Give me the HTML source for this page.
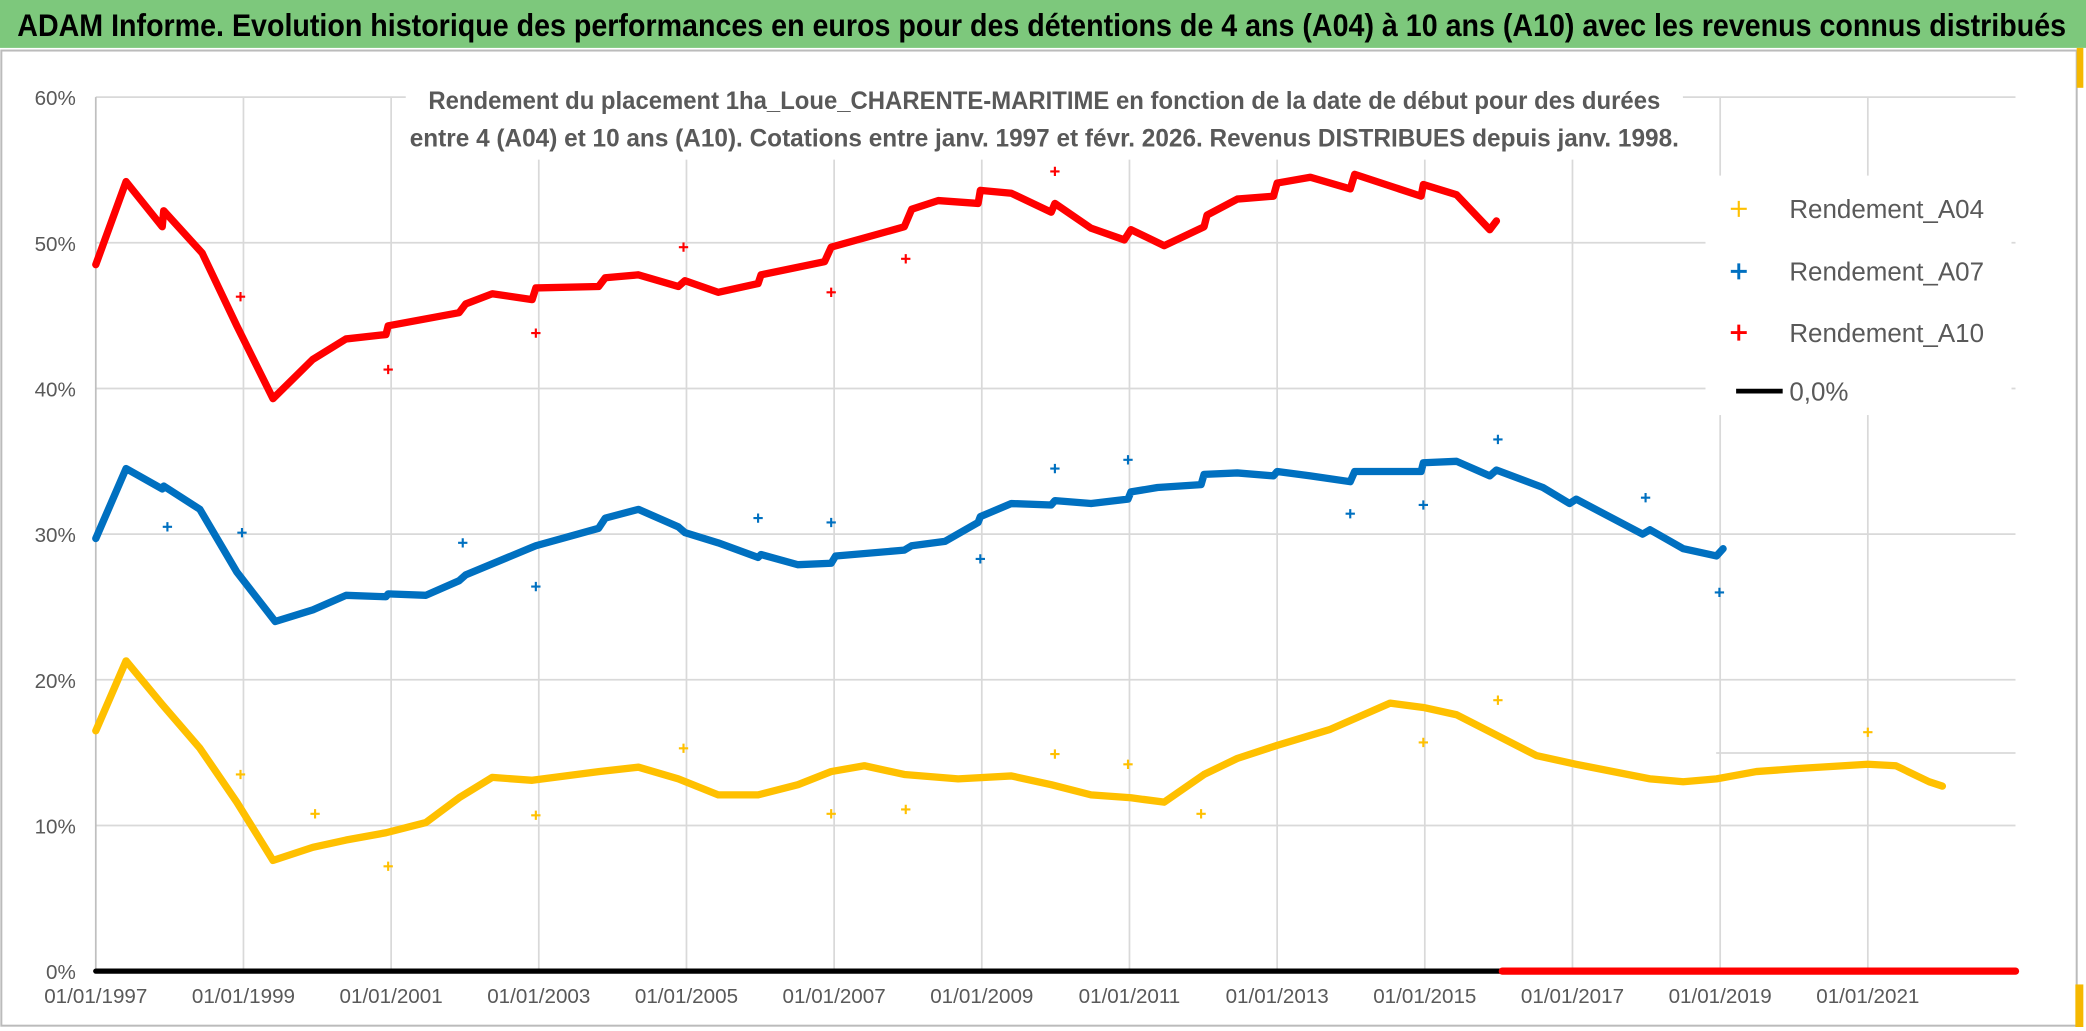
<!DOCTYPE html>
<html><head><meta charset="utf-8"><style>
html,body{margin:0;padding:0;background:#fff;}
svg{display:block;}
text{font-family:"Liberation Sans",sans-serif;}
</style></head><body>
<svg id="chart" width="2086" height="1031" viewBox="0 0 1568 775" preserveAspectRatio="none" xmlns="http://www.w3.org/2000/svg">
<rect x="0" y="0" width="1568" height="775" fill="#fff"/>
<rect x="0" y="0" width="1568" height="36" fill="#7dc87c"/>
<text x="13" y="27" font-size="24" font-weight="bold" fill="#000" textLength="1540" lengthAdjust="spacingAndGlyphs">ADAM Informe. Evolution historique des performances en euros pour des détentions de 4 ans (A04) à 10 ans (A10) avec les revenus connus distribués</text>
<rect x="1" y="38" width="1560" height="733" fill="none" stroke="#bbb" stroke-width="1.5"/>
<rect x="1561" y="36" width="5" height="30" fill="#f5b800"/>
<rect x="1560" y="740" width="6" height="32" fill="#f5b800"/>
<g id="grid"></g>
<line x1="1290" y1="566" x2="1515" y2="566" stroke="#d9d9d9" stroke-width="1.3"/>
<g id="series"></g>
<rect x="305" y="58" width="960" height="62" fill="#fff"/>
<text x="322" y="82" font-size="18.5" font-weight="bold" fill="#595959" textLength="926" lengthAdjust="spacingAndGlyphs">Rendement du placement 1ha_Loue_CHARENTE-MARITIME en fonction de la date de début pour des durées</text>
<text x="308" y="110" font-size="18.5" font-weight="bold" fill="#595959" textLength="954" lengthAdjust="spacingAndGlyphs">entre 4 (A04) et 10 ans (A10). Cotations entre janv. 1997 et févr. 2026. Revenus DISTRIBUES depuis janv. 1998.</text>
<g>
<rect x="1282" y="132" width="230" height="180" fill="#fff"/>
<g><path d="M1301 157h12M1307 151v12" stroke="#ffc000" stroke-width="1.6"/><text x="1345" y="164" font-size="19.5" fill="#595959">Rendement_A04</text></g>
<g><path d="M1301 204h12M1307 198v12" stroke="#0070c0" stroke-width="2.2"/><text x="1345" y="211" font-size="19.5" fill="#595959">Rendement_A07</text></g>
<g><path d="M1301 250h12M1307 244v12" stroke="#ff0000" stroke-width="2.2"/><text x="1345" y="257" font-size="19.5" fill="#595959">Rendement_A10</text></g>
<g><line x1="1305" y1="294" x2="1340" y2="294" stroke="#000" stroke-width="3.5"/><text x="1345" y="301" font-size="19.5" fill="#595959">0,0%</text></g>
</g>
</svg>
<script>
const yTicks = [0,10,20,30,40,50,60];
const yTickLabels = ['0%','10%','20%','30%','40%','50%','60%'];
const xTicks = [1997,1999,2001,2003,2005,2007,2009,2011,2013,2015,2017,2019,2021];
const xTickLabels = ['01/01/1997','01/01/1999','01/01/2001','01/01/2003','01/01/2005','01/01/2007','01/01/2009','01/01/2011','01/01/2013','01/01/2015','01/01/2017','01/01/2019','01/01/2021'];
const a10Dates = [1997.00,1997.41,1997.90,1997.92,1998.44,1998.91,1999.40,1999.94,2000.39,2000.93,2000.96,2001.92,2002.01,2002.37,2002.91,2002.96,2003.81,2003.90,2004.35,2004.89,2004.98,2005.43,2005.97,2006.01,2006.87,2006.96,2007.95,2008.05,2008.41,2008.95,2008.98,2009.40,2009.94,2009.99,2010.48,2010.93,2011.02,2011.47,2012.01,2012.05,2012.46,2012.95,2013.00,2013.45,2013.99,2014.05,2014.95,2014.98,2015.43,2015.88,2015.97];
const a10Values = [48.5,54.2,51.1,52.2,49.3,44.3,39.3,42.0,43.4,43.7,44.3,45.2,45.8,46.5,46.1,46.9,47.0,47.6,47.8,47.0,47.4,46.6,47.2,47.8,48.7,49.7,51.1,52.3,52.9,52.7,53.6,53.4,52.1,52.7,51.0,50.2,50.9,49.8,51.1,51.9,53.0,53.2,54.1,54.5,53.7,54.7,53.2,54.0,53.3,50.9,51.5];
const a10OutDates = [1998.96,2000.96,2002.96,2004.96,2006.96,2007.97,2009.99];
const a10OutValues = [46.3,41.3,43.8,49.7,46.6,48.9,54.9];
const a10ZeroDates = [2016.05,2023.0];
const a10ZeroValues = [0,0];
const a07Dates = [1997.00,1997.41,1997.90,1997.92,1998.41,1998.91,1999.43,1999.94,2000.39,2000.93,2000.96,2001.47,2001.92,2002.01,2002.91,2002.96,2003.81,2003.90,2004.35,2004.89,2004.98,2005.43,2005.97,2006.01,2006.51,2006.96,2007.02,2007.95,2008.05,2008.50,2008.95,2008.98,2009.40,2009.94,2009.99,2010.48,2010.98,2011.02,2011.38,2011.97,2012.01,2012.46,2012.95,2013.00,2013.45,2013.99,2014.05,2014.95,2014.98,2015.43,2015.88,2015.97,2016.60,2016.96,2017.05,2017.95,2018.05,2018.50,2018.95,2019.04];
const a07Values = [29.7,34.5,33.1,33.3,31.7,27.4,24.0,24.8,25.8,25.7,25.9,25.8,26.8,27.2,29.1,29.2,30.4,31.1,31.7,30.5,30.1,29.4,28.4,28.6,27.9,28.0,28.5,28.9,29.2,29.5,30.8,31.2,32.1,32.0,32.3,32.1,32.4,32.9,33.2,33.4,34.1,34.2,34.0,34.3,34.0,33.6,34.3,34.3,34.9,35.0,34.0,34.4,33.2,32.1,32.4,30.0,30.3,29.0,28.5,29.0];
const a07OutDates = [1997.97,1998.98,2001.97,2002.96,2005.97,2006.96,2008.98,2009.99,2010.98,2013.99,2014.98,2015.99,2017.99,2018.99];
const a07OutValues = [30.5,30.1,29.4,26.4,31.1,30.8,28.3,34.5,35.1,31.4,32.0,36.5,32.5,26.0];
const a04Dates = [1997.00,1997.41,1997.90,1998.41,1998.91,1999.40,1999.94,2000.39,2000.93,2001.47,2001.92,2002.37,2002.91,2003.81,2004.35,2004.89,2005.43,2005.97,2006.51,2006.96,2007.41,2007.95,2008.68,2009.40,2009.94,2010.48,2011.02,2011.47,2012.01,2012.46,2013.00,2013.72,2014.53,2014.98,2015.43,2015.97,2016.51,2017.05,2018.05,2018.50,2018.95,2019.49,2020.03,2021.00,2021.38,2021.83,2022.01];
const a04Values = [16.5,21.3,18.3,15.3,11.6,7.6,8.5,9.0,9.5,10.2,11.9,13.3,13.1,13.7,14.0,13.2,12.1,12.1,12.8,13.7,14.1,13.5,13.2,13.4,12.8,12.1,11.9,11.6,13.5,14.6,15.5,16.6,18.4,18.1,17.6,16.2,14.8,14.2,13.2,13.0,13.2,13.7,13.9,14.2,14.1,13.0,12.7];
const a04OutDates = [1998.96,1999.97,2000.96,2002.96,2004.96,2006.96,2007.97,2009.99,2010.98,2011.97,2014.98,2015.99,2021.0];
const a04OutValues = [13.5,10.8,7.2,10.7,15.3,10.8,11.1,14.9,14.2,10.8,15.7,18.6,16.4];
const zeroDates = [1997.0,2016.05];
const zeroValues = [0,0];

const NS='http://www.w3.org/2000/svg';
const X0=72, X1=1515, Y0=730, Y60=73;
function xs(d){return X0+(d-1997)*(X1-X0)/26;}
function ys(v){return Y0-v*(Y0-Y60)/60;}
function mk(tag,attrs,parent){const e=document.createElementNS(NS,tag);for(const k in attrs)e.setAttribute(k,attrs[k]);parent.appendChild(e);return e;}
const grid=document.getElementById('grid');
const ser=document.getElementById('series');
yTicks.forEach((v,i)=>{
  if(v>0){const l=mk('line',{x1:X0,x2:X1,y1:ys(v),y2:ys(v),stroke:'#d9d9d9','stroke-width':1.3},grid);
  
  }
  const t=mk('text',{x:57,y:ys(v)+6,'font-size':15.5,fill:'#595959','text-anchor':'end'},grid);
  t.textContent=yTickLabels[i];
  
  
});
xTicks.forEach((d,i)=>{
  const l=mk('line',{x1:xs(d),x2:xs(d),y1:Y60,y2:Y0,stroke:d===1997?'#bfbfbf':'#d9d9d9','stroke-width':1.3},grid);
  
  
  const t=mk('text',{x:xs(d),y:754,'font-size':15.5,fill:'#595959','text-anchor':'middle'},grid);
  t.textContent=xTickLabels[i];
  
  
});
function line(dates,vals,color,w,name){
  const p=mk('polyline',{points:dates.map((d,i)=>xs(d)+','+ys(vals[i])).join(' '),fill:'none',stroke:color,'stroke-width':w,'stroke-linejoin':'round','stroke-linecap':'round'},ser);
  
  
}
function pts(dates,vals,color,name){
  dates.forEach((d,i)=>{const x=xs(d),y=ys(vals[i]);
    const p=mk('path',{d:`M${x-3.5} ${y}h7M${x} ${y-3.5}v7`,stroke:color,'stroke-width':1.6},ser);
    
    });
}
line(zeroDates,zeroValues,'#000',4,'zero-line');
line(a04Dates,a04Values,'#ffc000',5.5,'a04-series');
pts(a04OutDates,a04OutValues,'#ffc000','a04-outlier');
line(a07Dates,a07Values,'#0070c0',5.5,'a07-series');
pts(a07OutDates,a07OutValues,'#0070c0','a07-outlier');
line(a10Dates,a10Values,'#ff0000',5.5,'a10-series');
pts(a10OutDates,a10OutValues,'#ff0000','a10-outlier');
line(a10ZeroDates,a10ZeroValues,'#ff0000',5.5,'a10-zero-series');
</script>
</body></html>
